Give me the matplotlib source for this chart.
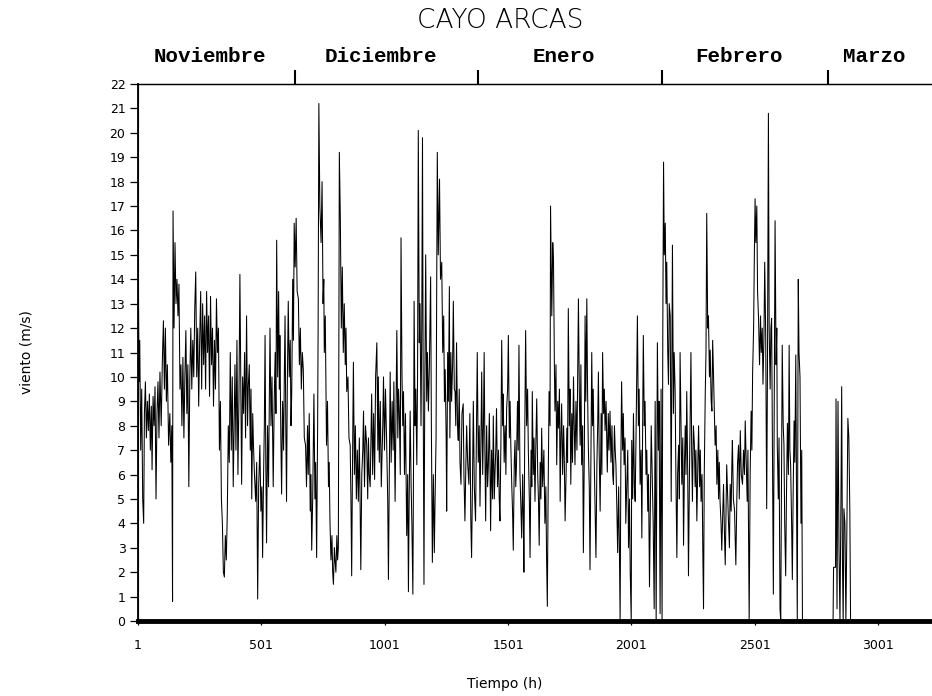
import matplotlib
matplotlib.use('Agg')
import matplotlib.pyplot as plt

# hourly wind speed at Cayo Arcas as (hour, m/s)
tramo_a = [(1, 9.5), (3, 13.3), (5, 9.8), (8, 11.5), (12, 7.0), (16, 9.5), (20, 5.0), (24, 4.0),
           (27, 8.5), (31, 9.8), (35, 7.5), (39, 9.0), (43, 7.8), (47, 9.3), (51, 7.0), (55, 8.8),
           (58, 6.2), (62, 9.2), (66, 8.0), (70, 9.6), (74, 5.0), (78, 8.5), (82, 9.8), (86, 7.5),
           (90, 10.2), (95, 8.0), (100, 10.8), (104, 12.3), (108, 9.5), (112, 12.0), (116, 9.0),
           (120, 10.5), (125, 7.2), (130, 8.5), (134, 6.5), (138, 8.0), (141, 0.8), (143, 16.8),
           (147, 12.0), (151, 15.5), (155, 13.0), (159, 14.0), (163, 12.5), (167, 13.8), (171, 9.5),
           (175, 10.5), (179, 8.0), (183, 10.8), (187, 7.5), (191, 10.0), (195, 11.9), (199, 8.5),
           (203, 10.5), (207, 5.5), (211, 10.0), (215, 12.0), (219, 9.5), (223, 11.5), (227, 10.0),
           (231, 12.8), (235, 14.3), (239, 10.0), (243, 12.0), (247, 8.8), (251, 11.5), (255, 13.5),
           (259, 9.5), (263, 13.0), (267, 10.5), (271, 12.5), (275, 9.5), (279, 13.5), (283, 11.0),
           (287, 12.5), (291, 9.2), (295, 13.3), (299, 10.5), (303, 12.0), (307, 8.8), (311, 11.5),
           (315, 9.5), (319, 13.2), (323, 11.0), (327, 12.0), (331, 7.0), (335, 9.0), (339, 5.0),
           (343, 4.0), (347, 2.0), (351, 1.8), (355, 3.5), (359, 2.5), (363, 4.5), (367, 8.0),
           (371, 6.5), (375, 11.0), (379, 7.0), (383, 10.0), (387, 5.5), (391, 8.5)]

tramo_b = [(394, 10.5), (398, 7.0), (402, 11.5), (406, 6.0), (410, 9.0), (414, 14.2), (418, 9.0),
           (421, 5.6), (425, 10.0), (429, 8.5), (433, 11.0), (437, 7.5), (441, 12.5), (445, 8.0),
           (448, 9.6), (452, 10.5), (456, 7.0), (459, 9.5), (462, 5.0), (466, 8.5), (469, 7.2),
           (473, 6.0), (478, 4.9), (482, 6.5), (486, 0.9), (490, 5.5), (495, 7.2), (499, 4.5),
           (503, 5.5), (506, 2.6), (510, 6.0), (513, 8.0), (516, 11.7), (519, 6.5), (522, 3.2),
           (526, 8.0), (530, 5.5), (533, 9.0), (536, 12.0), (540, 8.0), (544, 10.0), (549, 5.5),
           (553, 9.0), (557, 11.0), (560, 8.5), (563, 15.6), (567, 10.0), (571, 13.5), (574, 9.5),
           (576, 11.7), (580, 7.5), (583, 5.2), (587, 9.0), (591, 7.0), (594, 10.0), (597, 12.5),
           (600, 8.0), (603, 4.9), (606, 9.5), (610, 13.1), (614, 10.0), (618, 11.5), (621, 8.0),
           (624, 9.3), (628, 14.0), (631, 11.5), (634, 16.3), (638, 14.5), (642, 16.5), (646, 13.5),
           (651, 13.2), (655, 10.5), (659, 12.0), (663, 9.5), (667, 11.0), (671, 10.3), (675, 7.5),
           (680, 7.2), (684, 5.5), (688, 8.0), (691, 6.0), (695, 8.5), (699, 4.5), (702, 6.0),
           (705, 2.9), (709, 5.0), (714, 9.3), (718, 5.0), (721, 6.5), (725, 2.6), (729, 8.0),
           (731, 12.0), (734, 21.2), (738, 17.0), (743, 15.5), (747, 18.0), (751, 13.0), (754, 14.0),
           (756, 11.0), (760, 12.5), (765, 7.2), (769, 9.0), (773, 5.5), (776, 6.5), (779, 4.1),
           (783, 2.5), (787, 3.5), (790, 2.0), (793, 1.5), (797, 3.0), (799, 2.6), (803, 2.0),
           (807, 3.5), (810, 2.5), (813, 3.0), (817, 19.2), (821, 16.5), (825, 12.0), (829, 14.5),
           (833, 11.0), (837, 13.0)]

tramo_c = [(841, 10.5), (844, 12.0), (847, 9.4), (852, 10.0), (856, 7.5), (861, 7.2), (864, 5.0),
           (867, 1.85), (870, 6.0), (874, 10.6), (878, 6.0), (882, 8.0), (886, 5.0), (890, 7.0),
           (894, 4.9), (898, 7.5), (901, 5.0), (904, 2.1), (908, 6.0), (912, 7.0), (915, 8.6),
           (919, 5.5), (923, 8.0), (928, 7.2), (932, 5.0), (935, 7.5), (938, 6.0), (942, 5.5),
           (945, 7.5), (948, 9.3), (952, 6.0), (956, 8.5), (960, 5.8), (964, 10.0), (969, 11.4),
           (973, 7.0), (975, 10.0), (979, 6.5), (983, 9.0), (987, 5.5), (989, 6.3), (993, 8.0),
           (996, 10.0), (1000, 7.0), (1004, 9.5), (1009, 7.2), (1013, 5.0), (1016, 1.7), (1020, 6.5),
           (1023, 10.2), (1027, 6.5), (1031, 9.0), (1035, 7.0), (1038, 9.8), (1043, 4.9), (1046, 8.0),
           (1050, 11.9), (1054, 7.5), (1057, 9.5), (1060, 8.6), (1064, 6.0), (1067, 15.7), (1071, 10.0),
           (1074, 8.0), (1077, 9.4), (1081, 6.0), (1085, 8.5), (1088, 5.5), (1090, 3.5), (1094, 6.0),
           (1097, 1.2), (1100, 5.0), (1104, 8.6), (1108, 5.5), (1111, 4.0), (1115, 1.1), (1118, 7.0),
           (1120, 13.1), (1124, 8.0), (1127, 9.5), (1131, 6.4), (1134, 10.0), (1137, 20.1), (1141, 11.4),
           (1144, 13.0), (1148, 8.0), (1151, 12.0), (1154, 19.8), (1157, 9.0), (1160, 1.5), (1163, 9.0),
           (1167, 15.0), (1171, 9.0), (1174, 11.0), (1178, 8.6), (1182, 10.5), (1187, 14.1), (1190, 8.0),
           (1194, 2.4), (1198, 6.0), (1202, 2.8), (1205, 5.0), (1209, 7.5), (1211, 12.0), (1214, 19.2),
           (1218, 15.0), (1223, 18.1), (1227, 14.0), (1232, 14.7), (1236, 11.0), (1240, 12.5),
           (1243, 9.0), (1246, 10.3), (1250, 7.5), (1252, 4.5), (1256, 11.0), (1259, 9.0), (1263, 13.7)]

tramo_d = [(1265, 7.5), (1269, 11.0), (1272, 9.0), (1276, 10.5), (1279, 13.1), (1283, 9.5), (1286, 9.4),
           (1289, 8.0), (1292, 11.4), (1296, 8.0), (1299, 7.4), (1303, 9.5), (1306, 6.5), (1310, 5.6),
           (1314, 8.5), (1319, 8.9), (1322, 6.0), (1326, 4.1), (1330, 6.5), (1333, 8.0), (1337, 6.5),
           (1342, 5.6), (1346, 8.5), (1350, 4.0), (1353, 2.6), (1357, 6.0), (1360, 9.0), (1364, 5.5),
           (1369, 4.1), (1372, 7.0), (1376, 11.0), (1380, 6.5), (1384, 8.0), (1387, 4.7), (1391, 7.5),
           (1394, 10.2), (1398, 6.0), (1401, 8.0), (1404, 11.0), (1407, 7.0), (1410, 4.1), (1414, 8.0),
           (1418, 5.5), (1421, 6.4), (1425, 8.5), (1428, 6.0), (1430, 3.7), (1434, 7.0), (1438, 5.0),
           (1441, 8.4), (1445, 5.0), (1448, 6.1), (1451, 7.0), (1454, 8.7), (1458, 5.5), (1462, 7.0),
           (1465, 5.0), (1468, 4.1), (1472, 7.5), (1475, 11.5), (1479, 8.0), (1481, 9.3), (1485, 6.5),
           (1489, 8.0), (1492, 6.0), (1495, 8.7), (1499, 9.5), (1502, 11.7), (1506, 7.5), (1509, 9.0),
           (1512, 7.2), (1516, 5.5), (1519, 4.5), (1522, 2.9), (1526, 6.5), (1529, 7.4), (1532, 5.5),
           (1535, 6.4), (1539, 9.0), (1542, 7.0), (1545, 11.3), (1549, 6.0), (1552, 5.0), (1556, 3.4),
           (1560, 6.0), (1563, 4.0), (1565, 2.0), (1568, 7.0), (1572, 11.9), (1576, 8.0), (1580, 9.5),
           (1583, 7.0), (1587, 5.0), (1590, 2.6), (1594, 7.0), (1597, 5.5), (1599, 9.4), (1603, 6.0),
           (1606, 7.5), (1610, 4.9), (1613, 7.0), (1617, 9.1), (1621, 6.0), (1624, 5.0), (1627, 3.1),
           (1631, 6.5), (1634, 5.0), (1637, 7.9), (1641, 5.5), (1646, 7.0), (1650, 4.0), (1654, 5.5),
           (1657, 2.5), (1660, 0.6), (1663, 5.0), (1667, 9.4), (1671, 8.0)]

tramo_e = [(1673, 17.0), (1678, 12.5), (1682, 15.5), (1685, 14.7), (1689, 10.0), (1691, 8.6), (1695, 10.5),
           (1698, 6.4), (1702, 9.0), (1705, 7.9), (1709, 9.5), (1712, 4.9), (1715, 7.5), (1718, 8.9),
           (1722, 6.0), (1726, 8.0), (1729, 6.5), (1732, 4.1), (1736, 6.0), (1739, 7.9), (1742, 6.5),
           (1745, 12.8), (1749, 8.0), (1752, 9.5), (1755, 5.6), (1759, 8.5), (1762, 6.5), (1766, 10.0),
           (1769, 8.0), (1772, 6.4), (1776, 9.0), (1780, 7.0), (1783, 10.0), (1786, 13.2), (1790, 9.0),
           (1793, 7.2), (1796, 10.5), (1799, 6.4), (1803, 8.0), (1806, 2.8), (1810, 7.0), (1813, 12.5),
           (1816, 9.0), (1820, 13.2), (1823, 9.5), (1826, 7.2), (1830, 5.5), (1833, 2.1), (1836, 6.0),
           (1840, 11.0), (1843, 8.0), (1846, 9.5), (1849, 7.2), (1853, 5.0), (1857, 2.6), (1861, 6.5),
           (1864, 8.0), (1867, 10.2), (1870, 7.0), (1874, 4.5), (1878, 8.5), (1881, 6.0), (1884, 11.0),
           (1888, 8.5), (1891, 9.5), (1894, 7.8), (1898, 9.0), (1903, 6.1), (1907, 8.5), (1910, 7.0),
           (1914, 8.6), (1918, 6.5), (1922, 8.0), (1925, 6.0), (1928, 5.6), (1932, 8.0), (1935, 7.0),
           (1938, 6.4), (1942, 4.5), (1945, 2.8), (1949, 5.5), (1952, 3.0), (1955, 0.0), (1958, 6.5),
           (1961, 9.8), (1965, 7.0), (1968, 8.5), (1971, 6.4), (1975, 7.5), (1978, 4.0), (1982, 5.6),
           (1986, 7.0), (1989, 3.0), (1993, 5.0), (1996, 2.0), (2000, 0.0), (2002, 7.4), (2006, 5.0),
           (2009, 8.5), (2013, 5.5), (2016, 4.9), (2020, 8.0), (2025, 12.5), (2029, 8.0), (2032, 9.5),
           (2036, 5.6), (2040, 7.0), (2043, 3.4), (2046, 7.5), (2049, 11.7), (2053, 8.0), (2056, 9.0),
           (2060, 6.0), (2063, 7.0), (2067, 4.5), (2070, 6.0), (2074, 1.4), (2078, 5.0), (2081, 8.0),
           (2085, 6.0), (2089, 4.0), (2093, 0.5), (2097, 9.0), (2101, 0.0), (2106, 11.4), (2110, 7.0),
           (2113, 9.0), (2117, 0.3), (2121, 9.5), (2125, 0.0), (2128, 12.0)]

tramo_f = [(2131, 18.8), (2134, 15.0), (2138, 16.3), (2141, 13.0), (2144, 14.7), (2148, 11.0), (2151, 9.7),
           (2154, 13.0), (2158, 12.5), (2162, 4.9), (2167, 15.4), (2171, 8.5), (2174, 11.0), (2178, 9.4),
           (2181, 6.0), (2185, 2.6), (2188, 6.0), (2192, 7.2), (2195, 5.0), (2198, 11.0), (2202, 8.0),
           (2205, 5.6), (2209, 7.5), (2212, 3.1), (2216, 6.5), (2219, 8.0), (2222, 6.0), (2225, 9.4),
           (2229, 6.0), (2232, 1.85), (2236, 6.0), (2239, 8.5), (2242, 11.0), (2245, 7.0), (2248, 4.9),
           (2252, 8.0), (2256, 7.2), (2259, 5.5), (2262, 7.0), (2266, 4.1), (2270, 6.5), (2273, 8.0),
           (2277, 5.5), (2280, 7.0), (2283, 4.9), (2287, 6.0), (2290, 3.0), (2293, 0.5), (2296, 6.0),
           (2300, 9.3), (2303, 11.0), (2306, 16.7), (2310, 12.0), (2313, 12.5), (2317, 10.0), (2320, 11.1),
           (2324, 9.0), (2327, 8.6), (2330, 11.5), (2333, 10.3), (2337, 8.5), (2340, 7.2), (2344, 8.0),
           (2347, 5.6), (2351, 7.0), (2354, 5.0), (2357, 6.5), (2360, 4.9), (2364, 4.0), (2367, 2.9),
           (2371, 4.5), (2374, 5.6), (2378, 3.5), (2381, 2.3), (2384, 4.5), (2387, 6.4), (2391, 5.0),
           (2394, 4.1), (2398, 3.0), (2401, 5.6), (2405, 4.5), (2408, 6.5), (2410, 7.4), (2414, 5.0),
           (2419, 4.5), (2421, 3.5), (2424, 2.3), (2428, 5.0), (2431, 6.5), (2435, 7.2), (2438, 5.0),
           (2442, 7.8), (2446, 6.0), (2451, 5.6), (2455, 7.0), (2459, 6.0), (2462, 8.2), (2466, 6.5),
           (2470, 4.9), (2473, 7.0), (2476, 3.0), (2478, 0.0), (2482, 6.0), (2486, 8.6), (2489, 7.0),
           (2492, 10.2), (2496, 12.0), (2499, 15.0), (2502, 17.3), (2505, 15.5), (2509, 17.0), (2512, 13.5),
           (2516, 12.4), (2520, 10.5), (2524, 12.5), (2527, 11.0), (2531, 12.0), (2534, 9.7), (2538, 11.7),
           (2541, 14.7), (2545, 11.7), (2549, 4.6), (2552, 10.0), (2556, 20.8), (2559, 12.0), (2563, 9.5),
           (2566, 12.0), (2569, 12.4), (2573, 6.0), (2576, 1.1), (2579, 8.0), (2583, 16.4), (2587, 10.5),
           (2590, 12.0), (2592, 7.2), (2596, 5.0), (2599, 7.5), (2603, 0.5), (2606, 0.0), (2609, 6.0),
           (2612, 11.3), (2616, 8.0), (2619, 7.2), (2622, 4.0), (2626, 1.85), (2629, 5.0), (2633, 8.1),
           (2637, 6.0), (2640, 11.3), (2643, 7.0), (2646, 6.4), (2650, 4.0), (2653, 1.7), (2656, 5.0),
           (2660, 8.2), (2663, 6.5), (2667, 10.9), (2670, 5.0), (2673, 0.0), (2677, 14.0), (2680, 11.0),
           (2684, 10.0), (2688, 4.0), (2691, 7.0), (2694, 0.0), (2697, 0.0)]

# gap without data (plotted as 0) and the few March records
tramo_g = [(2818, 0.0), (2820, 2.2), (2828, 2.2), (2830, 9.1), (2834, 0.5), (2838, 9.0), (2842, 3.0),
           (2846, 0.0), (2850, 5.0), (2853, 9.6), (2856, 2.5), (2859, 0.0), (2862, 4.6), (2866, 4.0),
           (2870, 0.0), (2874, 3.8), (2878, 8.3), (2882, 7.5), (2886, 4.5), (2889, 0.0), (3219, 0.0)]

meses = ['Noviembre', 'Diciembre', 'Enero', 'Febrero', 'Marzo']
inicio_mes = [637, 1381, 2125, 2797]      # hour where each new month starts
x_ticks = [1, 501, 1001, 1501, 2001, 2501, 3001]
x_max = 3219

serie = tramo_a + tramo_b + tramo_c + tramo_d + tramo_e + tramo_f + tramo_g
horas = [p[0] for p in serie]
viento = [p[1] for p in serie]

W, H = 932, 696
fig = plt.figure(figsize=(W / 100, H / 100), dpi=100)
left, right, top, bottom = 138, 932, 84, 621
ax = fig.add_axes([left / W, 1 - bottom / H, (right - left) / W, (bottom - top) / H])

ax.plot(horas, viento, color='black', lw=0.75)
ax.set_xlim(1, x_max)
ax.set_ylim(0, 22)

ax.spines['right'].set_visible(False)
ax.spines['left'].set_linewidth(1.3)
ax.spines['bottom'].set_linewidth(3.5)
ax.spines['top'].set_linewidth(0.9)

ax.set_yticks(range(0, 23))
ax.set_xticks(x_ticks)
ax.tick_params(axis='y', direction='out', length=6, width=0.9, pad=3, labelsize=9)
ax.tick_params(axis='x', direction='out', length=3, width=0.9, pad=10, labelsize=9)

# month separators and names along the top
ax2 = ax.twiny()
ax2.set_xlim(ax.get_xlim())
ax2.spines['right'].set_visible(False)
ax2.spines['top'].set_linewidth(0.9)
ax2.set_xticks(inicio_mes)
ax2.set_xticklabels([])
ax2.tick_params(axis='x', which='major', direction='out', length=10, width=1.5)
bordes = [1] + inicio_mes + [x_max]
centros = [(bordes[i] + bordes[i + 1]) / 2 - 25 for i in range(len(meses))]
ax2.set_xticks(centros, minor=True)
ax2.set_xticklabels(meses, minor=True, fontfamily='Liberation Mono', fontweight='bold', fontsize=15)
ax2.tick_params(axis='x', which='minor', length=0, pad=13)

fig.text(500 / W, 1 - 20 / H, 'CAYO ARCAS', ha='center', va='center', fontsize=19, fontweight='light')
fig.text(505 / W, 1 - 684 / H, 'Tiempo (h)', ha='center', va='center', fontsize=10)
fig.text(27 / W, 1 - (top + bottom) / 2 / H, 'viento (m/s)', ha='center', va='center',
         rotation=90, fontsize=10)

fig.savefig('out.png', dpi=100)
